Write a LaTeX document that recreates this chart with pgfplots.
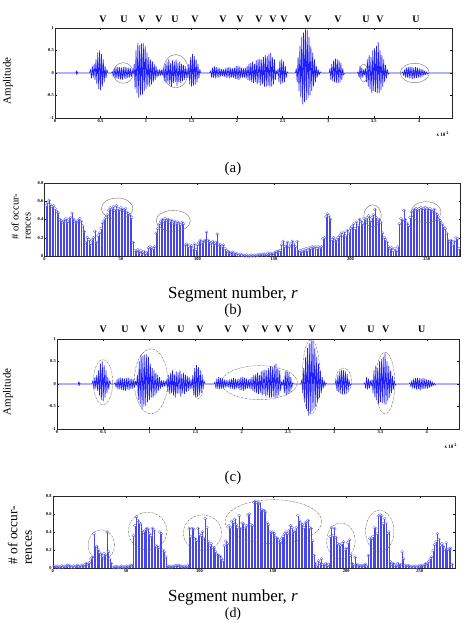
\documentclass[border=0pt]{standalone}
\usepackage{fontspec}
\setmainfont{Liberation Serif}
\usepackage{pgfplots}
\pgfplotsset{compat=1.18}
\usepackage{pgfplotstable}

\pgfplotstableread{
x y
0 0
0.23 0
0.235 0.05
0.24 -0.04
0.245 0.03
0.25 0
0.38 0
0.39 0.08
0.40 -0.12
0.41 0.15
0.42 -0.10
0.43 0.20
0.44 -0.15
0.45 0.30
0.46 -0.25
0.47 0.45
0.48 -0.35
0.49 0.50
0.50 -0.38
0.51 0.42
0.52 -0.30
0.53 0.30
0.54 -0.20
0.55 0.15
0.56 -0.12
0.57 0.08
0.58 0
0.62 0
0.63 0.03
0.64 -0.08
0.65 0.10
0.66 -0.12
0.67 0.13
0.68 -0.12
0.69 0.14
0.70 -0.13
0.71 0.13
0.72 -0.14
0.73 0.12
0.74 -0.15
0.75 0.13
0.76 -0.12
0.77 0.14
0.78 -0.13
0.79 0.12
0.80 -0.11
0.81 0.12
0.82 -0.10
0.83 0.10
0.84 -0.08
0.85 0.06
0.86 -0.03
0.87 0.20
0.88 -0.35
0.89 0.50
0.90 -0.45
0.91 0.67
0.92 -0.55
0.93 0.62
0.94 -0.50
0.95 0.65
0.96 -0.48
0.97 0.66
0.98 -0.40
0.99 0.60
1.00 -0.35
1.01 0.45
1.02 -0.30
1.03 0.35
1.04 -0.30
1.05 0.30
1.06 -0.25
1.07 0.25
1.08 -0.20
1.09 0.20
1.10 -0.15
1.11 0.15
1.12 -0.10
1.13 0.08
1.14 -0.07
1.15 0.08
1.16 -0.06
1.17 0.07
1.18 -0.05
1.19 0.12
1.20 -0.18
1.21 0.20
1.22 -0.22
1.23 0.25
1.24 -0.20
1.25 0.30
1.26 -0.25
1.27 0.22
1.28 -0.30
1.29 0.28
1.30 -0.22
1.31 0.25
1.32 -0.20
1.33 0.30
1.34 -0.28
1.35 0.22
1.36 -0.20
1.37 0.25
1.38 -0.22
1.39 0.20
1.40 -0.18
1.41 0.18
1.42 -0.15
1.43 0.15
1.44 -0.12
1.45 0.10
1.46 -0.10
1.47 0.20
1.48 -0.25
1.49 0.35
1.50 -0.30
1.51 0.42
1.52 -0.28
1.53 0.38
1.54 -0.25
1.55 0.30
1.56 -0.20
1.57 0.20
1.58 -0.12
1.59 0.08
1.60 0
1.70 0
1.71 0.05
1.72 -0.10
1.73 0.12
1.74 -0.10
1.75 0.15
1.76 -0.12
1.77 0.13
1.78 -0.10
1.79 0.12
1.80 -0.10
1.81 0.10
1.82 -0.08
1.83 0.09
1.84 -0.07
1.85 0.08
1.86 -0.08
1.87 0.10
1.88 -0.10
1.89 0.12
1.90 -0.10
1.91 0.13
1.92 -0.12
1.93 0.12
1.94 -0.10
1.95 0.10
1.96 -0.10
1.97 0.12
1.98 -0.13
1.99 0.15
2.00 -0.14
2.01 0.16
2.02 -0.15
2.03 0.14
2.04 -0.12
2.05 0.12
2.06 -0.10
2.07 0.10
2.08 -0.10
2.09 0.12
2.10 -0.12
2.11 0.15
2.12 -0.15
2.13 0.20
2.14 -0.18
2.15 0.22
2.16 -0.20
2.17 0.25
2.18 -0.22
2.19 0.20
2.20 -0.20
2.21 0.28
2.22 -0.25
2.23 0.30
2.24 -0.22
2.25 0.32
2.26 -0.28
2.27 0.30
2.28 -0.25
2.29 0.35
2.30 -0.30
2.31 0.40
2.32 -0.30
2.33 0.38
2.34 -0.28
2.35 0.42
2.36 -0.32
2.37 0.45
2.38 -0.30
2.39 0.35
2.40 -0.25
2.41 0.30
2.42 -0.15
2.43 0.05
2.44 -0.03
2.45 0.10
2.46 -0.20
2.47 0.28
2.48 -0.25
2.49 0.30
2.50 -0.22
2.51 0.25
2.52 -0.20
2.53 0.15
2.54 -0.10
2.55 0.03
2.56 0
2.64 0
2.65 0.10
2.66 -0.20
2.67 0.35
2.68 -0.40
2.69 0.60
2.70 -0.55
2.71 0.80
2.72 -0.70
2.73 0.90
2.74 -0.65
2.75 1.00
2.76 -0.60
2.77 0.95
2.78 -0.55
2.79 0.80
2.80 -0.50
2.81 0.60
2.82 -0.40
2.83 0.45
2.84 -0.30
2.85 0.30
2.86 -0.20
2.87 0.15
2.88 -0.10
2.89 0.08
2.90 -0.05
2.91 0.03
2.92 0
3.01 0
3.02 0.10
3.03 -0.15
3.04 0.20
3.05 -0.18
3.06 0.28
3.07 -0.20
3.08 0.32
3.09 -0.22
3.10 0.30
3.11 -0.22
3.12 0.28
3.13 -0.20
3.14 0.22
3.15 -0.15
3.16 0.10
3.17 -0.05
3.18 0
3.32 0
3.33 0.03
3.34 -0.10
3.35 0.15
3.36 -0.12
3.37 0.12
3.38 -0.10
3.39 0.08
3.40 -0.05
3.41 0.10
3.42 -0.20
3.43 0.30
3.44 -0.30
3.45 0.40
3.46 -0.35
3.47 0.35
3.48 -0.45
3.49 0.50
3.50 -0.40
3.51 0.55
3.52 -0.42
3.53 0.60
3.54 -0.45
3.55 0.68
3.56 -0.45
3.57 0.50
3.58 -0.38
3.59 0.40
3.60 -0.30
3.61 0.30
3.62 -0.20
3.63 0.18
3.64 -0.12
3.65 0.08
3.66 -0.03
3.67 0
3.81 0
3.82 0.03
3.83 -0.06
3.84 0.08
3.85 -0.10
3.86 0.12
3.87 -0.10
3.88 0.13
3.89 -0.12
3.90 0.14
3.91 -0.12
3.92 0.13
3.93 -0.14
3.94 0.12
3.95 -0.12
3.96 0.13
3.97 -0.11
3.98 0.12
3.99 -0.10
4.00 0.10
4.01 -0.10
4.02 0.09
4.03 -0.08
4.04 0.08
4.05 -0.06
4.06 0.05
4.07 -0.04
4.08 0.03
4.09 -0.02
4.10 0
4.36 0
}\wave

\pgfplotstableread[row sep=\\]{y\\
0.55\\0.58\\0.61\\0.56\\0.54\\0.55\\0.52\\0.49\\
0.47\\0.40\\0.38\\0.37\\0.39\\0.41\\0.37\\0.40\\0.42\\0.47\\0.40\\0.38\\0.37\\0.39\\0.41\\0.38\\0.33\\
0.27\\0.15\\0.20\\0.18\\0.13\\0.17\\0.20\\0.27\\0.15\\0.22\\0.25\\
0.30\\0.36\\0.39\\0.42\\0.45\\
0.50\\0.53\\0.51\\0.54\\0.50\\0.55\\0.52\\0.50\\0.53\\0.51\\0.50\\0.52\\0.48\\0.46\\
0.45\\0.42\\0.15\\
0.06\\0.05\\0.07\\0.04\\0.06\\0.03\\0.05\\0.02\\0.04\\
0.09\\0.10\\0.09\\0.08\\0.10\\
0.25\\0.30\\0.35\\
0.38\\0.40\\0.38\\0.41\\0.39\\0.40\\0.37\\0.39\\0.36\\0.38\\0.35\\0.37\\0.36\\0.34\\0.37\\0.35\\
0.12\\0.13\\0.10\\0.12\\0.11\\0.08\\0.13\\0.07\\0.12\\
0.15\\0.17\\0.14\\0.16\\0.17\\0.26\\0.17\\0.15\\0.14\\0.16\\0.13\\0.15\\0.24\\0.13\\0.12\\0.10\\0.12\\0.08\\0.06\\0.05\\
0.04\\0.03\\0.04\\0.02\\0.03\\0.02\\0.01\\0.02\\0.01\\0.01\\0.00\\0.01\\0.00\\0.00\\0.01\\0.00\\0.01\\0.00\\0.01\\0.01\\0.02\\0.01\\0.02\\0.02\\0.01\\0.03\\0.02\\0.03\\0.02\\0.03\\0.04\\0.05\\
0.05\\0.06\\
0.12\\0.16\\0.10\\0.12\\0.15\\0.10\\0.13\\0.16\\0.13\\0.10\\0.16\\
0.05\\0.06\\0.04\\0.07\\0.05\\0.08\\0.06\\0.09\\0.08\\0.10\\0.09\\0.10\\0.08\\0.10\\0.09\\0.10\\
0.19\\0.20\\
0.43\\0.46\\0.44\\0.40\\
0.18\\0.20\\0.17\\
0.18\\0.20\\0.22\\0.25\\0.23\\0.26\\0.22\\0.28\\0.25\\0.30\\0.32\\
0.35\\0.30\\0.37\\0.33\\0.40\\0.38\\0.35\\
0.41\\0.39\\0.42\\0.44\\0.38\\0.42\\0.45\\0.51\\0.42\\0.38\\0.40\\0.37\\
0.25\\0.20\\0.18\\0.15\\
0.10\\0.08\\0.09\\0.06\\0.08\\0.05\\0.10\\
0.35\\0.41\\0.39\\0.50\\0.40\\0.36\\0.33\\0.42\\
0.48\\0.50\\0.51\\0.52\\0.50\\0.52\\0.53\\0.51\\0.52\\0.53\\0.52\\0.51\\0.52\\0.50\\0.49\\0.51\\0.47\\0.45\\0.40\\0.38\\
0.35\\0.32\\0.30\\0.25\\
0.17\\0.16\\0.17\\0.12\\0.16\\0.20\\0.19\\0.08\\
}\stemb

\pgfplotstableread[row sep=\\]{y\\
0.02\\0.01\\0.02\\0.01\\0.01\\0.02\\0.01\\0.02\\0.02\\0.03\\0.03\\0.02\\0.01\\0.02\\0.01\\0.02\\0.03\\0.02\\0.02\\0.03\\0.02\\
0.04\\0.05\\0.04\\0.06\\
0.10\\0.12\\
0.38\\0.23\\0.24\\0.20\\0.17\\0.15\\0.12\\0.16\\0.14\\0.40\\0.18\\
0.10\\0.05\\
0.01\\0.01\\0.02\\0.01\\0.01\\0.01\\0.02\\0.01\\0.01\\0.02\\0.01\\0.02\\0.03\\
0.03\\0.36\\0.47\\0.57\\0.53\\0.50\\0.49\\0.41\\0.40\\0.42\\0.44\\0.43\\0.38\\0.36\\0.44\\0.42\\0.25\\0.24\\0.22\\0.40\\0.38\\0.20\\0.18\\0.12\\
0.02\\0.01\\0.02\\0.01\\0.02\\0.02\\0.03\\0.02\\0.03\\0.02\\0.02\\0.01\\0.02\\0.01\\0.03\\
0.44\\0.35\\0.44\\0.43\\0.33\\0.30\\0.44\\0.37\\0.36\\0.40\\0.33\\0.55\\0.45\\0.29\\0.25\\0.27\\0.23\\0.22\\0.18\\0.15\\0.14\\0.13\\0.10\\0.08\\
0.25\\0.30\\0.27\\
0.47\\0.45\\0.52\\0.50\\0.54\\0.48\\0.45\\0.58\\0.44\\0.50\\0.49\\0.44\\0.47\\0.59\\0.60\\0.48\\0.47\\0.73\\0.74\\0.73\\0.72\\
0.72\\0.65\\0.64\\0.64\\0.62\\0.50\\0.48\\0.40\\0.39\\
0.40\\0.38\\0.34\\0.33\\0.31\\0.29\\0.33\\
0.35\\0.38\\0.40\\0.38\\0.42\\0.47\\0.45\\0.40\\0.41\\0.45\\
0.58\\0.52\\0.50\\0.48\\0.45\\0.50\\0.51\\0.53\\0.45\\0.44\\
0.30\\0.14\\0.05\\0.02\\
0.08\\0.05\\0.10\\0.04\\0.03\\0.05\\0.02\\0.04\\
0.35\\0.45\\0.36\\0.44\\0.34\\0.27\\0.26\\0.25\\0.27\\0.29\\0.20\\0.22\\0.28\\0.31\\0.14\\
0.05\\0.03\\0.12\\0.04\\0.03\\0.02\\0.03\\0.02\\0.03\\0.04\\0.02\\0.14\\
0.33\\0.32\\0.35\\0.45\\0.44\\0.38\\0.58\\0.59\\0.58\\0.49\\0.55\\0.50\\0.38\\0.40\\0.07\\
0.04\\0.05\\0.03\\0.02\\0.05\\0.03\\0.04\\0.18\\0.10\\0.03\\0.02\\0.03\\0.02\\0.01\\0.02\\0.01\\0.02\\0.01\\0.02\\0.02\\0.03\\0.02\\0.03\\0.05\\0.04\\0.07\\0.10\\0.12\\
0.19\\0.26\\0.29\\0.38\\0.32\\0.25\\0.27\\0.24\\0.21\\0.28\\0.20\\0.21\\0.22\\0.04\\
}\stemd

\tikzset{
  el/.style={draw=black!55, line width=0.4pt},
  eld/.style={draw=black!60, line width=0.4pt, dash pattern=on 2pt off 0.8pt on 0.4pt off 0.8pt},
}
\pgfplotsset{
  panel/.style={
    scale only axis, anchor=south west, clip=false,
    axis line style={line width=0.4pt, black!85},
    tick style={line width=0.3pt, black},
    major tick length=2bp,
    tick label style={font=\fontsize{4.5}{5}\selectfont\bfseries, inner sep=1pt},
    /pgf/number format/assume math mode=true,
  },
  wavepanel/.style={panel, height=90bp, xmin=0, ymin=-1, ymax=1,
    ytick={-1,-0.5,0,0.5,1}, xtick={0,0.5,1,1.5,2,2.5,3,3.5,4}},
  stempanel/.style={panel, xmin=0, ymin=0, ymax=0.8,
    ytick={0,0.2,0.4,0.6,0.8}, xtick={0,50,100,150,200,250}},
  wv/.style={color={rgb,255:red,30;green,30;blue,255}, line width=0.65pt, line join=miter, miter limit=2},
  st/.style={ycomb, color={rgb,255:red,70;green,70;blue,235}, line width=0.45pt,
    mark=o, mark size=1.5bp, mark options={solid, line width=0.35pt, color={rgb,255:red,110;green,110;blue,240}}},
}

\begin{document}
\begin{tikzpicture}
\useasboundingbox (0bp,0bp) rectangle (467bp,623bp);

% ---------- (a) ----------
\begin{axis}[wavepanel, at={(55bp,505bp)}, width=397bp, xmax=4.36]
\addplot[wv] table[x=x,y=y]{\wave};
\draw[el] (axis cs:0.75,0) ellipse [x radius=10bp, y radius=10.3bp];
\draw[el] (axis cs:1.326,0.04) ellipse [x radius=12.5bp, y radius=16.7bp];
\draw[el] (axis cs:3.39,0) ellipse [x radius=4.2bp, y radius=8.7bp];
\draw[el] (axis cs:3.95,0) ellipse [x radius=14.5bp, y radius=9.7bp];
\end{axis}
\foreach \xx/\ll in {103/V,124/U,142/V,159/V,175/U,195/V,223/V,240/V,259/V,273/V,284/V,308/V,338/V,366/U,380/V,416/U}
  \node[font=\fontsize{10}{12}\selectfont\bfseries] at (\xx bp,604bp) {\ll};
\node[rotate=90, font=\fontsize{11}{13}\selectfont] at (8bp,542bp) {Amplitude};
\node[font=\fontsize{5}{6}\selectfont\bfseries] at (443bp,489bp) {x 10$^{4}$};
\node[font=\fontsize{15}{17}\selectfont] at (233bp,454bp) {(a)};

% ---------- (b) ----------
\begin{axis}[stempanel, at={(44.5bp,367bp)}, width=416bp, height=73bp, xmax=272]
\addplot[st] table[x expr=\coordindex+1, y=y]{\stemb};
\draw[el] (axis cs:47.5,0.52) ellipse [x radius=15.8bp, y radius=10.5bp];
\draw[el] (axis cs:84.2,0.385) ellipse [x radius=17.1bp, y radius=10.5bp];
\draw[el] (axis cs:214.5,0.44) ellipse [x radius=8.7bp, y radius=11bp];
\draw[el] (axis cs:249.5,0.48) ellipse [x radius=15bp, y radius=10.5bp];
\end{axis}
\node[rotate=90, anchor=west, align=left, font=\fontsize{10.5}{12}\selectfont] at (21bp,380bp) {\# of occur-\\rences};
\node[font=\fontsize{17}{19}\selectfont] at (233bp,329bp) {Segment number, \textit{r}};
\node[font=\fontsize{15}{17}\selectfont] at (233bp,312bp) {(b)};

% ---------- (c) ----------
\begin{axis}[wavepanel, at={(57bp,194bp)}, width=402bp, xmax=4.35]
\addplot[wv] table[x=x,y=y]{\wave};
\draw[eld] (axis cs:0.498,0.04) ellipse [x radius=9.7bp, y radius=22.5bp];
\draw[eld] (axis cs:1.017,0.06) ellipse [x radius=16.7bp, y radius=32.5bp];
\draw[eld] (axis cs:1.53,0) ellipse [x radius=5bp, y radius=14.5bp];
\draw[eld] (axis cs:2.19,0.03) ellipse [x radius=38bp, y radius=17bp];
\draw[eld] (axis cs:2.75,0.16) ellipse [x radius=8.8bp, y radius=37bp];
\draw[eld] (axis cs:3.10,0.06) ellipse [x radius=8bp, y radius=13.3bp];
\draw[eld] (axis cs:3.55,0.02) ellipse [x radius=9.7bp, y radius=30.8bp];
\end{axis}
\foreach \xx/\ll in {103.3/V,125/U,144/V,161.7/V,181/U,200/V,228/V,245.7/V,265/V,278.3/V,290/V,312.3/V,343.3/V,371/U,385.7/V,421.7/U}
  \node[font=\fontsize{10}{12}\selectfont\bfseries] at (\xx bp,293.7bp) {\ll};
\node[rotate=90, font=\fontsize{11}{13}\selectfont] at (8bp,231bp) {Amplitude};
\node[font=\fontsize{5}{6}\selectfont\bfseries] at (451bp,177bp) {x 10$^{4}$};
\node[font=\fontsize{15}{17}\selectfont] at (233bp,145bp) {(c)};

% ---------- (d) ----------
\begin{axis}[stempanel, at={(52.7bp,55bp)}, width=402.3bp, height=72bp, xmax=274]
\addplot[st] table[x expr=\coordindex+1, y=y]{\stemd};
\draw[eld] (axis cs:33.1,0.255) ellipse [x radius=13.1bp, y radius=15.3bp];
\draw[eld] (axis cs:64.7,0.41) ellipse [x radius=19.2bp, y radius=18.9bp];
\draw[eld] (axis cs:102,0.39) ellipse [x radius=19.1bp, y radius=18bp];
\draw[eld] (axis cs:150.3,0.515) ellipse [x radius=48.4bp, y radius=22bp];
\draw[eld] (axis cs:196.3,0.3) ellipse [x radius=14.2bp, y radius=18bp];
\draw[eld] (axis cs:222.7,0.41) ellipse [x radius=14.2bp, y radius=20.7bp];
\end{axis}
\node[rotate=90, anchor=west, align=left, font=\fontsize{13.5}{14.5}\selectfont] at (20bp,55bp) {\# of occur-\\rences};
\node[font=\fontsize{17}{19}\selectfont] at (233bp,26bp) {Segment number, \textit{r}};
\node[font=\fontsize{14}{16}\selectfont] at (233bp,9bp) {(d)};
\end{tikzpicture}
\end{document}
